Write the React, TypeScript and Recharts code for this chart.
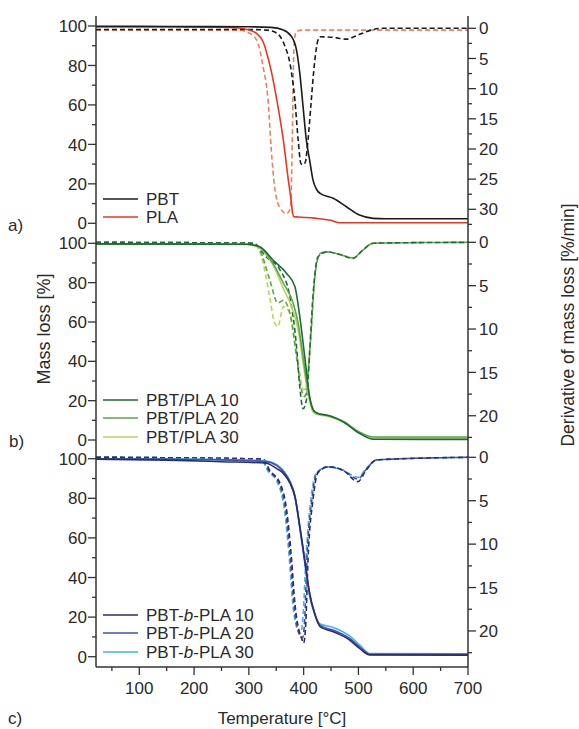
import React from 'react';
import { LineChart, Line, XAxis, YAxis } from 'recharts';

const FONT = '"Liberation Sans", Arial, Helvetica, sans-serif';
const AXIS = '#333333';
const TEXT = '#2a2a2a';
const FS = 17;

// ---------- tick values ----------
const X_TICKS = [50, 100, 150, 200, 250, 300, 350, 400, 450, 500, 550, 600, 650, 700];
const MASS_TICKS = [0, 10, 20, 30, 40, 50, 60, 70, 80, 90, 100];
const DTG_TICKS_A = [0, 2.5, 5, 7.5, 10, 12.5, 15, 17.5, 20, 22.5, 25, 27.5, 30, 32.5];
const DTG_TICKS_BC = [0, 2.5, 5, 7.5, 10, 12.5, 15, 17.5, 20, 22.5];

// ---------- panel a ----------
const T_PBT = [21, 100, 200, 300, 340, 363, 378, 387, 393, 399, 405, 411, 417, 424, 430, 454, 478, 502, 527, 550, 700];
const MASS_PBT = [99.8, 99.8, 99.7, 99.6, 99.3, 98, 94.6, 87.8, 76, 59, 42, 32, 22, 17, 15.2, 12.7, 8.4, 4.2, 2.5, 2.3, 2.3];
const T_PLA = [21, 200, 280, 300, 315, 326, 332, 341, 351, 363, 372, 377, 380, 382, 390, 420, 450, 466, 700];
const MASS_PLA = [99.6, 99.5, 99, 98, 96, 92, 87, 77, 62.5, 42, 22, 12, 5, 3.4, 3.2, 2.6, 1.5, 0.3, 0.3];
const T_PLA_DTG = [21, 280, 296, 314, 326, 335, 341, 347, 357, 369, 376, 379, 381, 383, 387, 400, 700];
const DTG_PLA = [0.3, 0.3, 0.6, 1.9, 6.4, 11.9, 20.2, 26.3, 29.8, 30.7, 29.8, 20, 8, 2, 0.5, 0.3, 0.3];
const T_PBT_DTG = [21, 300, 332, 351, 366, 375, 384, 390, 395, 399, 403, 408, 414, 418, 422, 426, 430, 454, 478, 502, 527, 545, 700];
const DTG_PBT = [0.2, 0.2, 0.3, 0.8, 3, 5.8, 11.9, 18.5, 22.4, 22.6, 22.2, 18.5, 11.9, 7.5, 4.1, 2.0, 1.4, 1.5, 1.8, 1.0, 0.2, 0, 0];

// ---------- panel b ----------
const T_BL10 = [21, 200, 296, 320, 344, 369, 384, 393, 402, 411, 420, 430, 442, 472, 502, 527, 700];
const MASS_BL10 = [99.7, 99.6, 99.5, 98.3, 91.5, 84.7, 78, 62.7, 42.4, 22, 14.4, 13.2, 12.7, 9.3, 3.4, 0.4, 0.3];
const T_BL20 = [21, 200, 296, 320, 344, 363, 381, 390, 399, 408, 417, 425, 442, 472, 502, 527, 700];
const MASS_BL20 = [99.7, 99.6, 99.5, 98, 89.8, 79.7, 69.5, 59.3, 42.4, 25.4, 15.3, 13.5, 12.5, 9.5, 4, 1.5, 1.5];
const T_BL30 = [21, 200, 296, 320, 344, 363, 378, 390, 399, 408, 417, 425, 442, 472, 502, 527, 700];
const MASS_BL30 = [99.7, 99.6, 99.4, 97.5, 89, 77, 67.8, 56, 39, 23.7, 14.4, 13, 12.2, 9.2, 3.8, 1.0, 1.0];
const T_BL10_DTG = [21, 308, 332, 357, 375, 387, 393, 399, 405, 411, 417, 426, 442, 466, 490, 508, 527, 700];
const DTG_BL10 = [0, 0.1, 1.7, 3.2, 6.3, 12, 16.7, 19.2, 18.2, 12.8, 6.3, 1.7, 1.1, 1.4, 1.85, 0.9, 0.1, 0];
const T_BL20_DTG = [21, 305, 320, 338, 353, 363, 375, 387, 396, 402, 408, 414, 420, 430, 442, 466, 490, 508, 527, 700];
const DTG_BL20 = [0, 0.1, 0.9, 4.3, 7.0, 6.7, 8.2, 13.2, 17, 17.8, 15.1, 10.1, 4.3, 1.3, 1.1, 1.4, 1.8, 0.9, 0.1, 0];
const T_BL30_DTG = [21, 305, 314, 326, 338, 347, 353, 363, 375, 384, 393, 399, 405, 411, 417, 426, 442, 466, 490, 508, 527, 700];
const DTG_BL30 = [0, 0.1, 0.3, 2.4, 6.3, 9.3, 9.7, 7.4, 8.2, 11.3, 15.1, 17, 16.7, 12, 6.3, 1.7, 1.1, 1.4, 1.8, 0.9, 0.1, 0];

// ---------- panel c ----------
const T_CO = [21, 150, 250, 330, 351, 363, 375, 384, 393, 402, 411, 420, 430, 454, 484, 502, 521, 700];
const MASS_CO10 = [99.8, 99.3, 98.5, 97.8, 95, 92.6, 87.6, 80.8, 65.7, 48.8, 32, 21.9, 15.2, 12.6, 8.4, 4.2, 0.9, 0.8];
const MASS_CO20 = [100, 99.8, 99.4, 98.6, 96.5, 93.5, 88.5, 81.5, 66, 48.5, 31.5, 22, 15.8, 13.4, 9.2, 5, 1.2, 1.2];
const MASS_CO30 = [100, 99.9, 99.6, 98.9, 97, 94, 88.5, 81, 65, 47.5, 30.5, 21.5, 16.5, 14.8, 10.5, 6, 1.6, 1.5];
const T_CO_DTG = [21, 326, 338, 357, 369, 378, 384, 390, 396, 400, 404, 408, 417, 426, 445, 472, 499, 514, 533, 700];
const DTG_CO10 = [0, 0.2, 1.5, 3, 6.1, 11.8, 16.8, 19.5, 20.8, 21.4, 19, 11.8, 4.9, 1.8, 1.1, 1.5, 2.8, 1.5, 0.3, 0];
const T_CO20_DTG = [21, 324, 336, 355, 367, 376, 382, 388, 394, 398, 402, 406, 415, 424, 445, 472, 499, 514, 533, 700];
const DTG_CO20 = [0, 0.2, 1.5, 3, 6.1, 11.8, 16.8, 19.5, 20.6, 20.8, 18.6, 11.8, 4.9, 1.8, 1.1, 1.5, 2.5, 1.4, 0.3, 0];
const T_CO30_DTG = [21, 322, 334, 353, 365, 374, 380, 386, 391, 394, 399, 404, 413, 423, 445, 472, 499, 514, 533, 700];
const DTG_CO30 = [0, 0.2, 1.5, 3, 6.1, 11.8, 16.8, 19.3, 20.1, 20.3, 18.2, 11.8, 4.9, 1.8, 1.1, 1.5, 2.3, 1.3, 0.3, 0];

// ---------- colors ----------
const C_PBT = '#1b1b1b';
const C_PLA = '#e23a22';
const C_PLA_D = '#ee8060';
const C_G10 = '#1f6a37';
const C_G20 = '#5aa84a';
const C_G30 = '#b9d35e';
const C_B10 = '#2f2a70';
const C_B20 = '#3f55ad';
const C_B30 = '#41b4e8';

type S = { t: number[]; v: number[]; color: string; axis: 'm' | 'd' };

const zip = (t: number[], v: number[]) => t.map((T, i) => ({ T, v: v[i] }));

const SERIES_A: S[] = [
  { t: T_PLA_DTG, v: DTG_PLA, color: C_PLA_D, axis: 'd' },
  { t: T_PBT_DTG, v: DTG_PBT, color: C_PBT, axis: 'd' },
  { t: T_PLA, v: MASS_PLA, color: C_PLA, axis: 'm' },
  { t: T_PBT, v: MASS_PBT, color: C_PBT, axis: 'm' },
];
const SERIES_B: S[] = [
  { t: T_BL30_DTG, v: DTG_BL30, color: C_G30, axis: 'd' },
  { t: T_BL20_DTG, v: DTG_BL20, color: C_G20, axis: 'd' },
  { t: T_BL10_DTG, v: DTG_BL10, color: C_G10, axis: 'd' },
  { t: T_BL30, v: MASS_BL30, color: C_G30, axis: 'm' },
  { t: T_BL20, v: MASS_BL20, color: C_G20, axis: 'm' },
  { t: T_BL10, v: MASS_BL10, color: C_G10, axis: 'm' },
];
const SERIES_C: S[] = [
  { t: T_CO30_DTG, v: DTG_CO30, color: C_B30, axis: 'd' },
  { t: T_CO20_DTG, v: DTG_CO20, color: C_B20, axis: 'd' },
  { t: T_CO_DTG, v: DTG_CO10, color: C_B10, axis: 'd' },
  { t: T_CO, v: MASS_CO30, color: C_B30, axis: 'm' },
  { t: T_CO, v: MASS_CO20, color: C_B20, axis: 'm' },
  { t: T_CO, v: MASS_CO10, color: C_B10, axis: 'm' },
];

const near = (v: number, step: number) => Math.abs(v / step - Math.round(v / step)) < 1e-6;

const LeftTick = (p: any) => {
  const { x, y, payload } = p;
  const v = payload.value;
  const major = near(v, 20);
  return (
    <g>
      <line x1={x} x2={x - (major ? 8 : 4)} y1={y} y2={y} stroke={AXIS} strokeWidth={1.3} />
      {major && (
        <text x={x - 9} y={y} dy="0.36em" textAnchor="end" fontSize={FS} fontFamily={FONT} fill={TEXT}>
          {v}
        </text>
      )}
    </g>
  );
};

const RightTick = (p: any) => {
  const { x, y, payload } = p;
  const v = payload.value;
  const major = near(v, 5);
  return (
    <g>
      <line x1={x} x2={x + (major ? 8 : 4)} y1={y} y2={y} stroke={AXIS} strokeWidth={1.3} />
      {major && (
        <text x={x + 11} y={y} dy="0.36em" textAnchor="start" fontSize={FS} fontFamily={FONT} fill={TEXT}>
          {v}
        </text>
      )}
    </g>
  );
};

const BottomTick = (p: any) => {
  const { x, y, payload } = p;
  const v = payload.value;
  const major = near(v, 100);
  return (
    <g>
      <line x1={x} x2={x} y1={y} y2={y + (major ? 8 : 4)} stroke={AXIS} strokeWidth={1.3} />
      {major && (
        <text x={x} y={y + 21} dy="0.36em" textAnchor="middle" fontSize={FS} fontFamily={FONT} fill={TEXT}>
          {v}
        </text>
      )}
    </g>
  );
};

type PanelProps = {
  top: number;
  plotH: number;
  massDomain: [number, number];
  dtgDomain: [number, number];
  dtgTicks: number[];
  series: S[];
  showX: boolean;
  showTop: boolean;
};

const axisLine = { stroke: AXIS, strokeWidth: 1.5 };

function Panel({ top, plotH, massDomain, dtgDomain, dtgTicks, series, showX, showTop }: PanelProps) {
  const height = 10 + plotH + 4 + (showX ? 30 : 0);
  return (
    <div style={{ position: 'absolute', left: 0, top: top - 10 }}>
      <LineChart width={579} height={height} margin={{ top: 10, right: 0, bottom: 4, left: 0 }}>
        <XAxis
          xAxisId="x"
          type="number"
          dataKey="T"
          domain={[21, 700]}
          allowDataOverflow
          ticks={X_TICKS}
          interval={0}
          tick={showX ? (q: any) => <BottomTick {...q} /> : false}
          tickLine={false}
          tickSize={0}
          tickMargin={0}
          height={showX ? 30 : 0}
          axisLine={axisLine}
        />
        {showTop && (
          <XAxis
            xAxisId="top"
            orientation="top"
            type="number"
            dataKey="T"
            domain={[21, 700]}
            allowDataOverflow
            tick={false}
            tickLine={false}
            height={0}
            axisLine={axisLine}
          />
        )}
        <YAxis
          yAxisId="m"
          orientation="left"
          width={96}
          type="number"
          domain={massDomain}
          allowDataOverflow
          ticks={MASS_TICKS}
          interval={0}
          tick={(q: any) => <LeftTick {...q} />}
          tickLine={false}
          tickSize={0}
          tickMargin={0}
          axisLine={axisLine}
        />
        <YAxis
          yAxisId="d"
          orientation="right"
          width={111}
          type="number"
          reversed
          domain={dtgDomain}
          allowDataOverflow
          ticks={dtgTicks}
          interval={0}
          tick={(q: any) => <RightTick {...q} />}
          tickLine={false}
          tickSize={0}
          tickMargin={0}
          axisLine={axisLine}
        />
        {series.map((s, i) => (
          <Line
            key={i}
            xAxisId="x"
            yAxisId={s.axis}
            data={zip(s.t, s.v)}
            dataKey="v"
            type="monotone"
            stroke={s.color}
            strokeWidth={1.6}
            strokeDasharray={s.axis === 'd' ? '5 3' : undefined}
            dot={false}
            activeDot={false}
            isAnimationActive={false}
          />
        ))}
      </LineChart>
    </div>
  );
}

const LEGEND_A = [
  { label: 'PBT', color: C_PBT, y: 199 },
  { label: 'PLA', color: C_PLA, y: 217 },
];
const LEGEND_B = [
  { label: 'PBT/PLA 10', color: C_G10, y: 400 },
  { label: 'PBT/PLA 20', color: C_G20, y: 418 },
  { label: 'PBT/PLA 30', color: C_G30, y: 437 },
];
const LEGEND_C = [
  { label: '10', color: C_B10, y: 615 },
  { label: '20', color: C_B20, y: 633 },
  { label: '30', color: C_B30, y: 652 },
];

export default function App() {
  return (
    <div style={{ position: 'absolute', left: 0, top: 0, width: 579, height: 729, background: '#fff' }}>
      <Panel top={16} plotH={216} massDomain={[-4.41, 105.07]} dtgDomain={[-2.04, 33.76]} dtgTicks={DTG_TICKS_A} series={SERIES_A} showX={false} showTop />
      <Panel top={232} plotH={218} massDomain={[-5.08, 105.75]} dtgDomain={[-1.19, 23.95]} dtgTicks={DTG_TICKS_BC} series={SERIES_B} showX={false} showTop={false} />
      <Panel top={450} plotH={217} massDomain={[-5.2, 104.4]} dtgDomain={[-0.84, 24.15]} dtgTicks={DTG_TICKS_BC} series={SERIES_C} showX showTop={false} />
      <svg width={579} height={729} style={{ position: 'absolute', left: 0, top: 0, pointerEvents: 'none' }} fontFamily={FONT} fill={TEXT}>
        {LEGEND_A.concat(LEGEND_B).map((l) => (
          <g key={l.label}>
            <line x1={103} x2={138} y1={l.y} y2={l.y} stroke={l.color} strokeWidth={1.6} />
            <text x={146} y={l.y} dy="0.36em" fontSize={FS}>{l.label}</text>
          </g>
        ))}
        {LEGEND_C.map((l) => (
          <g key={'c' + l.label}>
            <line x1={103} x2={138} y1={l.y} y2={l.y} stroke={l.color} strokeWidth={1.6} />
            <text x={146} y={l.y} dy="0.36em" fontSize={FS}>
              PBT-<tspan fontStyle="italic">b</tspan>-PLA {l.label}
            </text>
          </g>
        ))}
        <text x={8} y={231} fontSize={FS}>a)</text>
        <text x={9} y={447} fontSize={FS}>b)</text>
        <text x={8} y={724} fontSize={FS}>c)</text>
        <text x={282} y={724} fontSize={FS} textAnchor="middle">Temperature [°C]</text>
        <text transform="translate(50,329) rotate(-90)" fontSize={18} textAnchor="middle">Mass loss [%]</text>
        <text transform="translate(574,325) rotate(-90)" fontSize={17.5} textAnchor="middle">Derivative of mass loss [%/min]</text>
      </svg>
    </div>
  );
}
